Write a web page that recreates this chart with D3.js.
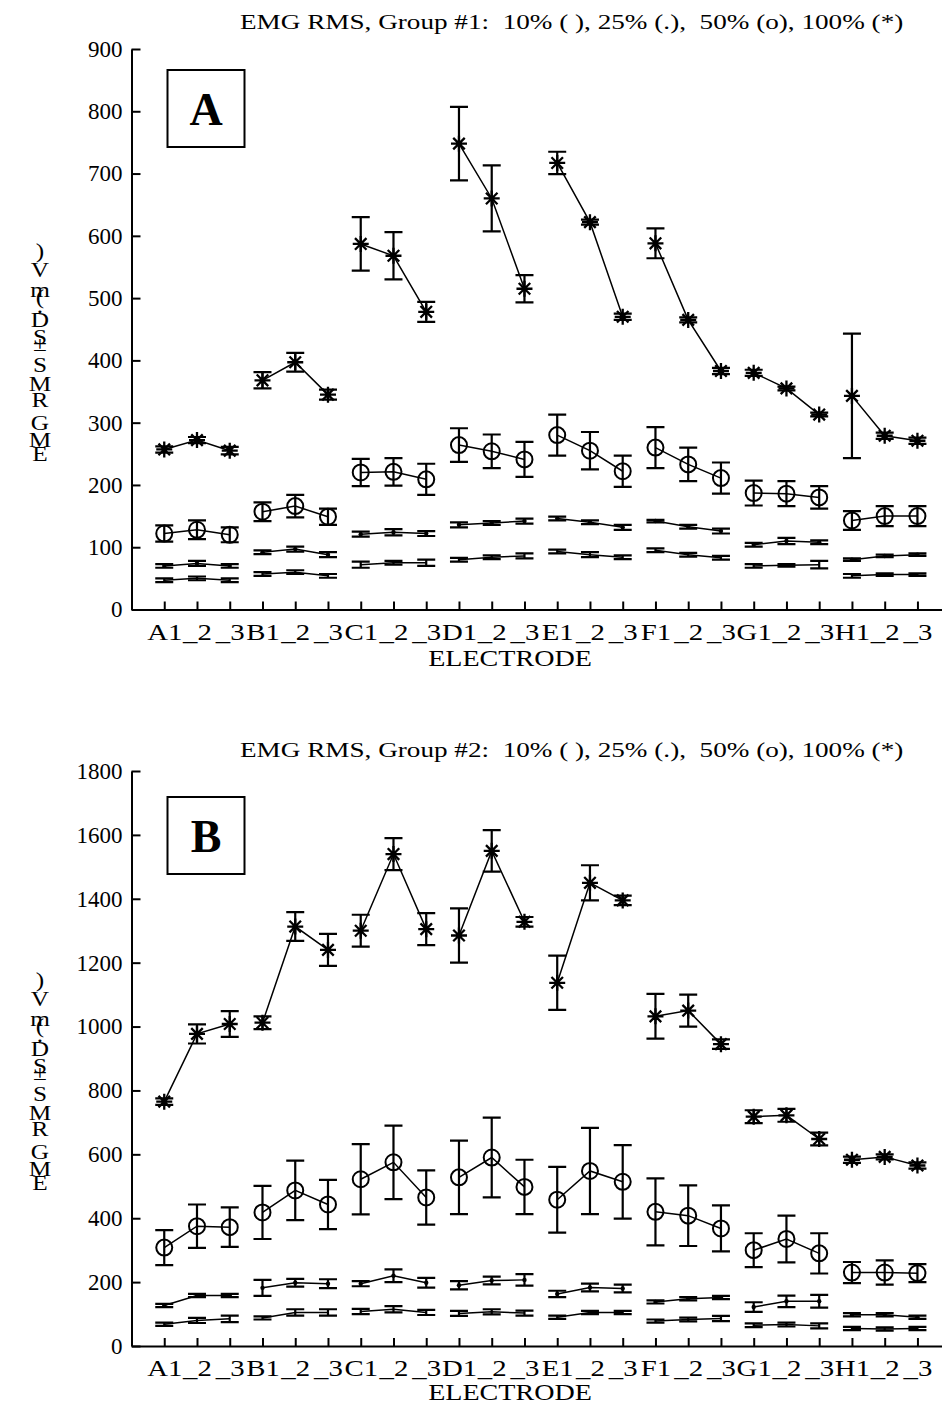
<!DOCTYPE html>
<html>
<head>
<meta charset="utf-8">
<script src="https://cdn.jsdelivr.net/npm/d3@7"></script>
<style>
  body { margin: 0; background: #fff; }
  svg { display: block; background: #fff; }
  text { font-family: "Liberation Serif", "Times New Roman", serif; fill: #000; }
</style>
</head>
<body>
<svg id="chart" width="942" height="1407"></svg>
<script>
// Electrode positions along the x axis (three sites per electrode strip)
const electrodes = ["A1", "_2", "_3", "B1", "_2", "_3", "C1", "_2", "_3", "D1", "_2", "_3",
                    "E1", "_2", "_3", "F1", "_2", "_3", "G1", "_2", "_3", "H1", "_2", "_3"];

// Group #1 — mean EMG RMS (mV) and S.D. at four contraction levels
const g1_100   = [257, 272, 255, 368, 397, 345, 587, 568, 478, 748, 660, 515, 717, 622, 470, 588, 465, 383, 380, 355, 313, 343, 279, 271];
const g1_100sd = [5, 5, 6, 13, 15, 8, 43, 38, 16, 59, 53, 22, 18, 4, 5, 24, 4, 5, 5, 3, 3, 100, 5, 5];
const g1_50    = [122, 128, 120, 157, 166, 149, 220, 221, 209, 264, 254, 241, 280, 255, 222, 260, 233, 211, 187, 186, 180, 143, 150, 150];
const g1_50sd  = [13, 15, 12, 15, 18, 13, 22, 22, 25, 27, 27, 28, 33, 30, 25, 33, 27, 25, 20, 20, 18, 15, 16, 16];
const g1_25    = [70, 74, 70, 92, 97, 88, 121, 124, 122, 136, 139, 142, 146, 140, 132, 142, 133, 126, 104, 110, 108, 80, 86, 88];
const g1_25sd  = [3, 4, 3, 3, 4, 4, 4, 5, 4, 4, 3, 4, 3, 3, 4, 2, 3, 4, 3, 5, 3, 2, 2, 2];
const g1_10    = [47, 50, 47, 57, 60, 54, 72, 75, 75, 80, 84, 86, 93, 88, 84, 95, 88, 83, 70, 71, 72, 54, 56, 56];
const g1_10sd  = [3, 3, 3, 3, 3, 3, 5, 3, 5, 3, 3, 4, 3, 4, 3, 3, 3, 3, 3, 2, 6, 3, 2, 2];

// Group #2
const g2_100   = [765, 977, 1008, 1012, 1313, 1240, 1300, 1540, 1305, 1285, 1550, 1328, 1137, 1450, 1395, 1032, 1050, 945, 718, 722, 648, 583, 592, 565];
const g2_100sd = [10, 30, 40, 20, 45, 50, 50, 50, 50, 85, 65, 15, 85, 55, 15, 70, 50, 15, 20, 20, 20, 10, 8, 10];
const g2_50    = [308, 375, 372, 418, 487, 443, 522, 575, 465, 528, 590, 498, 458, 548, 514, 420, 408, 368, 300, 335, 290, 230, 230, 228];
const g2_50sd  = [55, 68, 62, 83, 93, 77, 110, 115, 85, 115, 125, 85, 103, 135, 115, 105, 95, 72, 53, 73, 63, 33, 38, 28];
const g2_25    = [127, 158, 158, 182, 198, 195, 195, 220, 198, 190, 205, 207, 163, 183, 180, 138, 148, 152, 122, 140, 140, 98, 98, 90];
const g2_25sd  = [5, 5, 5, 25, 12, 14, 8, 20, 15, 13, 12, 18, 10, 12, 12, 5, 5, 5, 15, 18, 20, 5, 5, 5];
const g2_10    = [68, 80, 85, 88, 105, 105, 108, 115, 105, 102, 107, 103, 90, 105, 105, 78, 83, 86, 65, 67, 63, 55, 53, 55];
const g2_10sd  = [5, 8, 10, 5, 10, 10, 8, 10, 8, 8, 8, 8, 5, 5, 5, 5, 6, 8, 6, 6, 8, 5, 5, 5];

// Axis ticks
const yTicks1 = [0, 100, 200, 300, 400, 500, 600, 700, 800, 900];
const yTicks2 = [0, 200, 400, 600, 800, 1000, 1200, 1400, 1600, 1800];

// Titles and labels
const title1 = "EMG RMS, Group #1:  10% ( ), 25% (.),  50% (o), 100% (*)";
const title2 = "EMG RMS, Group #2:  10% ( ), 25% (.),  50% (o), 100% (*)";
const xTitle = "ELECTRODE";
// y label printed as a column of upright glyphs, read bottom to top
const yLabelGlyphs = [")", "V", "m", "(", ".", "D", "S", "±", "S", "M", "R", "G", "M", "E"];
const yLabelOffsets = [0, 19, 39, 46, 55, 69, 86, 93, 114, 133, 149, 172, 189, 203];

const SERIF = '"Liberation Serif", "Times New Roman", serif';
const svg = d3.select("#chart");

// widen glyphs horizontally about each text's own x anchor
function widen(sel, sx) {
  sel.attr("transform", function () {
    const x0 = +(this.getAttribute("x") || 0);
    return `translate(${x0},0) scale(${sx},1) translate(${-x0},0)`;
  });
}

function drawPanel(p) {
  const g = svg.append("g");

  const x = d3.scaleLinear().domain([-1, 23.75]).range([131.5, 942]);
  const y = d3.scaleLinear().domain([0, p.yMax]).range([p.y0, p.yTop]);

  // Title
  const t = g.append("text")
    .attr("x", 240).attr("y", p.titleY)
    .style("font-size", "22px").style("white-space", "pre")
    .text(p.title);
  widen(t, 1.235);

  // Y axis
  const ya = g.append("g").attr("transform", `translate(${x(-1)},0)`)
    .call(d3.axisLeft(y).tickValues(p.yTicks).tickFormat(d3.format("d"))
      .tickSize(-9).tickSizeOuter(0).tickPadding(9));
  ya.attr("font-family", SERIF).attr("font-size", 23);
  ya.selectAll("text").attr("font-family", SERIF).style("font-size", "23px").style("font-family", SERIF);
  ya.selectAll("line, path").attr("stroke", "#000").attr("stroke-width", 2);

  // X axis
  const xa = g.append("g").attr("transform", `translate(0,${p.y0})`)
    .call(d3.axisBottom(x).tickValues(d3.range(24)).tickFormat(i => electrodes[i])
      .tickSize(-8).tickSizeOuter(0).tickPadding(13));
  xa.attr("font-family", SERIF).attr("font-size", 24);
  xa.selectAll("text").style("font-size", "24px").style("font-family", SERIF);
  widen(xa.selectAll("text"), 1.2);
  xa.selectAll("line, path").attr("stroke", "#000").attr("stroke-width", 2);

  const xt = g.append("text")
    .attr("x", 510).attr("y", p.y0 + p.xTitleGap)
    .attr("text-anchor", "middle")
    .style("font-size", "24px")
    .text(xTitle);
  widen(xt, 1.17);

  // Y label glyph column
  yLabelGlyphs.forEach((c, i) => {
    const gl = g.append("text")
      .attr("x", 40).attr("y", p.yLabelTop + yLabelOffsets[i])
      .attr("text-anchor", "middle").attr("dominant-baseline", "central")
      .style("font-size", "22px")
      .text(c);
    widen(gl, 1.15);
  });

  // Panel letter box
  g.append("rect")
    .attr("x", 167.5).attr("y", p.boxY).attr("width", 77).attr("height", 77)
    .attr("fill", "none").attr("stroke", "#000").attr("stroke-width", 2);
  g.append("text")
    .attr("x", 206).attr("y", p.boxY + 55)
    .attr("text-anchor", "middle")
    .style("font-size", "46px").style("font-weight", "bold")
    .text(p.letter);

  const line = d3.line().x(d => x(d.i)).y(d => y(d.v));
  const capW = 9;

  p.series.forEach(s => {
    const pts = s.values.map((v, i) => ({ i, v, e: s.sd[i] }));
    // connecting lines within each electrode strip
    d3.range(8).forEach(k => {
      g.append("path")
        .attr("d", line(pts.slice(k * 3, k * 3 + 3)))
        .attr("fill", "none").attr("stroke", "#000").attr("stroke-width", 1.5);
    });
    // error bars
    const eb = g.append("g").attr("stroke", "#000").attr("stroke-width", 2.2).attr("fill", "none");
    eb.selectAll("path").data(pts).join("path")
      .attr("d", d => {
        const cx = x(d.i), y1 = y(d.v + d.e), y2 = y(d.v - d.e);
        return `M${cx},${y1}V${y2}M${cx - capW},${y1}H${cx + capW}M${cx - capW},${y2}H${cx + capW}`;
      });
    // markers
    const mk = g.append("g");
    if (s.marker === "star") {
      const r = 8, q = r * 0.72;
      mk.selectAll("path").data(pts).join("path")
        .attr("transform", d => `translate(${x(d.i)},${y(d.v)})`)
        .attr("d", `M${-r},0H${r}M0,${-r}V${r}M${-q},${-q}L${q},${q}M${-q},${q}L${q},${-q}`)
        .attr("stroke", "#000").attr("stroke-width", 2.3);
    } else if (s.marker === "circle") {
      mk.selectAll("circle").data(pts).join("circle")
        .attr("cx", d => x(d.i)).attr("cy", d => y(d.v)).attr("r", 8)
        .attr("fill", "none").attr("stroke", "#000").attr("stroke-width", 2);
    } else if (s.marker === "dot") {
      mk.selectAll("circle").data(pts).join("circle")
        .attr("cx", d => x(d.i)).attr("cy", d => y(d.v)).attr("r", 2.2)
        .attr("fill", "#000");
    }
  });
}

drawPanel({
  title: title1, titleY: 29, letter: "A", boxY: 70, xTitleGap: 57,
  yMax: 900, y0: 609.5, yTop: 49, yTicks: yTicks1, yLabelTop: 251,
  series: [
    { values: g1_10, sd: g1_10sd, marker: "none" },
    { values: g1_25, sd: g1_25sd, marker: "dot" },
    { values: g1_50, sd: g1_50sd, marker: "circle" },
    { values: g1_100, sd: g1_100sd, marker: "star" }
  ]
});

drawPanel({
  title: title2, titleY: 757, letter: "B", boxY: 797, xTitleGap: 54,
  yMax: 1800, y0: 1346, yTop: 771, yTicks: yTicks2, yLabelTop: 980,
  series: [
    { values: g2_10, sd: g2_10sd, marker: "none" },
    { values: g2_25, sd: g2_25sd, marker: "dot" },
    { values: g2_50, sd: g2_50sd, marker: "circle" },
    { values: g2_100, sd: g2_100sd, marker: "star" }
  ]
});
</script>
</body>
</html>
